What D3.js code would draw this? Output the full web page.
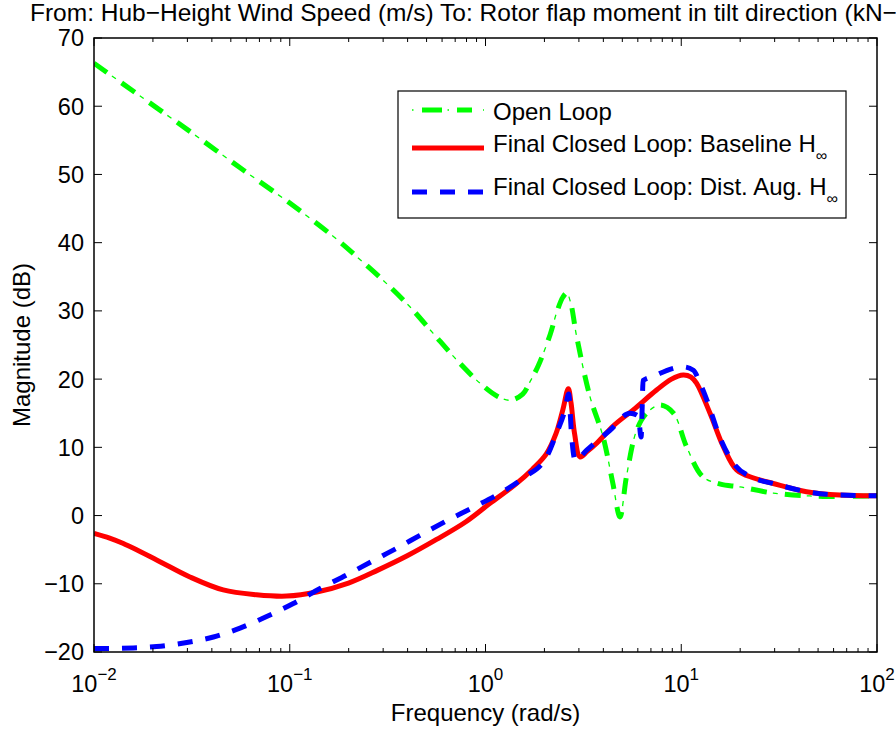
<!DOCTYPE html>
<html>
<head>
<meta charset="utf-8">
<script src="https://cdn.jsdelivr.net/npm/d3@7/dist/d3.min.js"></script>
<style>
  html, body { margin: 0; padding: 0; background: #fff; }
  svg { display: block; font-family: "Liberation Sans", Arial, Helvetica, sans-serif; }
</style>
</head>
<body>
<svg id="bode" width="896" height="729"></svg>
<script>
// frequencies are kept as log10(rad/s), magnitudes in dB
const openLoopLogW = [-2, -1.75, -1.5, -1.25, -1.0, -0.777, -0.64, -0.505, -0.386, -0.267, -0.147, -0.028, 0.06, 0.125, 0.19, 0.227, 0.27, 0.33, 0.364, 0.395, 0.415, 0.435, 0.466, 0.534, 0.6, 0.65, 0.687, 0.72, 0.772, 0.823, 0.891, 0.96, 1.027, 1.11, 1.2, 1.3, 1.47, 1.724, 2.0];
const openLoopDb   = [66.3, 61.2, 56.1, 50.9, 45.8, 40.9, 37.5, 34.0, 30.6, 26.7, 22.8, 19.4, 17.5, 16.9, 17.8, 19.6, 22.0, 26.5, 29.8, 32.0, 32.6, 31.2, 26.2, 17.4, 11.6, 4.8, -0.2, 5.7, 12.5, 15.0, 16.2, 15.0, 10.1, 5.7, 4.6, 4.2, 3.3, 2.8, 2.9];

const baselineLogW = [-2, -1.92, -1.85, -1.68, -1.51, -1.34, -1.17, -1.016, -0.862, -0.7, -0.55, -0.4, -0.25, -0.1, 0.023, 0.15, 0.24, 0.31, 0.36, 0.395, 0.423, 0.437, 0.455, 0.483, 0.52, 0.568, 0.655, 0.755, 0.874, 0.95, 1.01, 1.05, 1.078, 1.147, 1.215, 1.283, 1.37, 1.47, 1.64, 1.81, 2.0];
const baselineDb   = [-2.6, -3.3, -4.1, -6.5, -9.0, -10.9, -11.6, -11.8, -11.2, -9.9, -8.0, -5.9, -3.5, -0.9, 1.8, 4.5, 6.8, 9.0, 12.0, 15.5, 18.6, 16.5, 12.0, 8.6, 9.4, 10.6, 13.2, 15.5, 18.4, 20.0, 20.6, 20.3, 19.4, 15.0, 10.1, 6.7, 5.5, 4.7, 3.5, 3.0, 2.9];

const distAugLogW = [-2, -1.8, -1.68, -1.526, -1.39, -1.254, -1.118, -0.982, -0.845, -0.709, -0.573, -0.454, -0.335, -0.2, -0.07, 0.057, 0.193, 0.312, 0.363, 0.406, 0.425, 0.44, 0.458, 0.517, 0.636, 0.738, 0.78, 0.795, 0.8, 0.805, 0.857, 0.95, 1.01, 1.062, 1.096, 1.13, 1.198, 1.266, 1.37, 1.47, 1.64, 1.81, 2.0];
const distAugDb   = [-19.5, -19.4, -19.2, -18.6, -17.8, -16.5, -14.8, -12.9, -10.7, -8.7, -6.6, -4.8, -2.9, -0.8, 1.1, 3.0, 5.5, 8.6, 12.1, 15.5, 17.8, 11.6, 8.1, 9.6, 12.5, 15.0, 14.6, 11.5, 15.5, 19.8, 20.4, 21.5, 21.8, 21.3, 19.4, 17.0, 11.4, 7.7, 5.5, 4.7, 3.5, 3.0, 2.9];

const yTicks = [-20, -10, 0, 10, 20, 30, 40, 50, 60, 70];
const xDecades = [-2, -1, 0, 1, 2];

const titleText = "From: Hub\u2212Height Wind Speed (m/s) To: Rotor flap moment in tilt direction (kN\u2212m)";
const legendItems = [
  { label: "Open Loop", sub: null, key: "open" },
  { label: "Final Closed Loop: Baseline H", sub: "\u221e", key: "base" },
  { label: "Final Closed Loop: Dist. Aug. H", sub: "\u221e", key: "dist" }
];

const d3 = window.d3;
const svg = d3.select("#bode");

const plot = { left: 94, right: 877, top: 38, bottom: 652 };

const x = d3.scaleLog().domain([1e-2, 1e2]).range([plot.left, plot.right]);
const y = d3.scaleLinear().domain([-20, 70]).range([plot.bottom, plot.top]);

const toPts = (lw, db) => lw.map((v, i) => ({ w: Math.pow(10, v), db: db[i] }));
const series = {
  open: toPts(openLoopLogW, openLoopDb),
  base: toPts(baselineLogW, baselineDb),
  dist: toPts(distAugLogW, distAugDb)
};

// title (runs off the right edge like the original)
svg.append("text")
  .attr("x", 30).attr("y", 21)
  .attr("font-size", 24.5)
  .attr("fill", "#000")
  .text(titleText);

// clip
svg.append("defs").append("clipPath").attr("id", "clipPlot")
  .append("rect")
  .attr("x", plot.left).attr("y", plot.top)
  .attr("width", plot.right - plot.left).attr("height", plot.bottom - plot.top);

const smooth = d3.line()
  .x(d => x(d.w))
  .y(d => y(d.db))
  .curve(d3.curveCatmullRom.alpha(0.5));

const mono = d3.line()
  .x(d => x(d.w))
  .y(d => y(d.db))
  .curve(d3.curveMonotoneX);

const g = svg.append("g").attr("clip-path", "url(#clipPlot)");

// open loop: thick dashes + thin dots
g.append("path").datum(series.open)
  .attr("d", smooth).attr("fill", "none")
  .attr("stroke", "#00ff00").attr("stroke-width", 5)
  .attr("stroke-dasharray", "16 18");
g.append("path").datum(series.open)
  .attr("d", smooth).attr("fill", "none")
  .attr("stroke", "#00ff00").attr("stroke-width", 1.3)
  .attr("stroke-dasharray", "0 22 5 7");

g.append("path").datum(series.base)
  .attr("d", smooth).attr("fill", "none")
  .attr("stroke", "#ff0000").attr("stroke-width", 5)
  .attr("stroke-linejoin", "round");

g.append("path").datum(series.dist)
  .attr("d", mono).attr("fill", "none")
  .attr("stroke", "#0000ff").attr("stroke-width", 5)
  .attr("stroke-dasharray", "15 13");

// box + ticks
const axes = svg.append("g").attr("stroke", "#000").attr("stroke-width", 1);
axes.append("rect")
  .attr("x", plot.left).attr("y", plot.top)
  .attr("width", plot.right - plot.left).attr("height", plot.bottom - plot.top)
  .attr("fill", "none").attr("stroke-width", 1.5);

const majorLen = 8, minorLen = 4;
const xTickVals = [];
for (const dec of xDecades) {
  for (let m = 1; m <= 9; m++) {
    const v = m * Math.pow(10, dec);
    if (v > 100.0001) break;
    xTickVals.push({ v, major: m === 1 });
  }
}
for (const t of xTickVals) {
  const px = x(t.v), len = t.major ? majorLen : minorLen;
  axes.append("line").attr("x1", px).attr("x2", px).attr("y1", plot.bottom).attr("y2", plot.bottom - len);
  axes.append("line").attr("x1", px).attr("x2", px).attr("y1", plot.top).attr("y2", plot.top + len);
}
for (const t of yTicks) {
  const py = y(t);
  axes.append("line").attr("x1", plot.left).attr("x2", plot.left + majorLen).attr("y1", py).attr("y2", py);
  axes.append("line").attr("x1", plot.right).attr("x2", plot.right - majorLen).attr("y1", py).attr("y2", py);
}

// tick labels
svg.append("g").selectAll("text").data(yTicks).enter().append("text")
  .attr("x", plot.left - 10)
  .attr("y", d => y(d))
  .attr("dy", "0.36em")
  .attr("text-anchor", "end")
  .attr("font-size", 23.5)
  .text(d => d < 0 ? "\u2212" + Math.abs(d) : String(d));

const xl = svg.append("g").selectAll("text").data(xDecades).enter().append("text")
  .attr("x", d => x(Math.pow(10, d)))
  .attr("y", 692)
  .attr("text-anchor", "middle")
  .attr("font-size", 23.5);
xl.append("tspan").text("10");
xl.append("tspan").attr("dy", -12).attr("font-size", 17)
  .text(d => d < 0 ? "\u2212" + Math.abs(d) : String(d));

// axis labels
svg.append("text")
  .attr("x", (plot.left + plot.right) / 2).attr("y", 721)
  .attr("text-anchor", "middle").attr("font-size", 24)
  .text("Frequency (rad/s)");

svg.append("text")
  .attr("transform", "rotate(-90)")
  .attr("x", -(plot.top + plot.bottom) / 2).attr("y", 30)
  .attr("text-anchor", "middle").attr("font-size", 24)
  .text("Magnitude (dB)");

// legend
const leg = svg.append("g");
leg.append("rect")
  .attr("x", 398).attr("y", 91).attr("width", 448).attr("height", 127)
  .attr("fill", "#fff").attr("stroke", "#000").attr("stroke-width", 1.2);

const legLineY = [110, 148, 192];
const legTextY = [120, 152, 195];
legendItems.forEach((it, i) => {
  const ly = legLineY[i];
  if (it.key === "open") {
    leg.append("line").attr("x1", 412).attr("x2", 484).attr("y1", ly).attr("y2", ly)
      .attr("stroke", "#00ff00").attr("stroke-width", 5).attr("stroke-dasharray", "0 10 20 15 15 50");
    leg.append("line").attr("x1", 412).attr("x2", 484).attr("y1", ly).attr("y2", ly)
      .attr("stroke", "#00ff00").attr("stroke-width", 1.3).attr("stroke-dasharray", "1.5 34 1.5 34 1.5 40");
  } else if (it.key === "base") {
    leg.append("line").attr("x1", 412).attr("x2", 484).attr("y1", ly).attr("y2", ly)
      .attr("stroke", "#ff0000").attr("stroke-width", 5);
  } else {
    leg.append("line").attr("x1", 412).attr("x2", 484).attr("y1", ly).attr("y2", ly)
      .attr("stroke", "#0000ff").attr("stroke-width", 5).attr("stroke-dasharray", "15 13");
  }
  const t = leg.append("text").attr("x", 493).attr("y", legTextY[i]).attr("font-size", 24);
  t.append("tspan").text(it.label);
  if (it.sub) t.append("tspan").attr("dy", 9).attr("font-size", 16).text(it.sub);
});
</script>
</body>
</html>
